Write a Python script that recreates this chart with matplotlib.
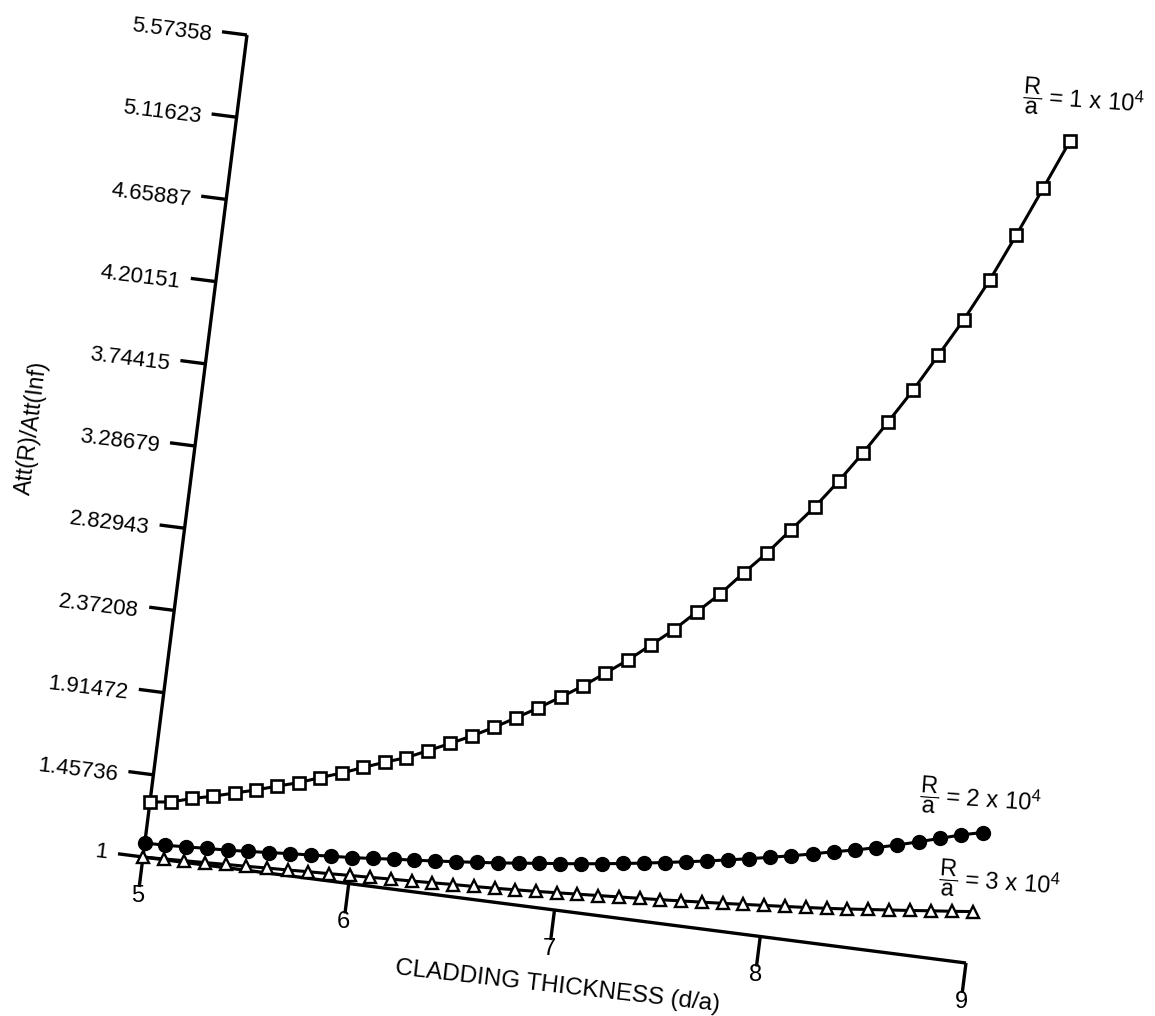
import numpy as np
import matplotlib
matplotlib.use("Agg")
import matplotlib.pyplot as plt
from matplotlib.transforms import Affine2D

plt.rcParams['font.family'] = ['Liberation Sans', 'DejaVu Sans']
plt.rcParams['mathtext.fontset'] = 'custom'
plt.rcParams['mathtext.rm'] = 'Liberation Sans'
plt.rcParams['mathtext.it'] = 'Liberation Sans:italic'

# cladding thickness d/a
thickness = np.linspace(5.0, 9.0, 41)

# Att(R)/Att(Inf) for R/a = 1e4 (open squares)
att_1e4 = [1.306, 1.321, 1.355, 1.383, 1.415, 1.447, 1.483, 1.517, 1.560, 1.600,
           1.646, 1.690, 1.730, 1.784, 1.838, 1.895, 1.957, 2.025, 2.095, 2.169,
           2.246, 2.333, 2.420, 2.518, 2.617, 2.732, 2.846, 2.978, 3.104, 3.247,
           3.389, 3.549, 3.722, 3.907, 4.098, 4.308, 4.520, 4.755, 5.020, 5.295,
           5.57358]
# R/a = 2e4 (filled circles)
att_2e4 = [1.078, 1.080, 1.086, 1.092, 1.097, 1.105, 1.113, 1.122, 1.129, 1.137,
           1.144, 1.154, 1.165, 1.174, 1.184, 1.195, 1.206, 1.218, 1.231, 1.245,
           1.258, 1.272, 1.287, 1.303, 1.320, 1.338, 1.357, 1.376, 1.397, 1.418,
           1.441, 1.464, 1.489, 1.516, 1.540, 1.568, 1.598, 1.630, 1.664, 1.698,
           1.726]
# R/a = 3e4 (open triangles)
att_3e4 = [1.000, 1.004, 1.009, 1.013, 1.018, 1.022, 1.027, 1.031, 1.036, 1.040,
           1.045, 1.049, 1.054, 1.058, 1.063, 1.068, 1.072, 1.077, 1.083, 1.089,
           1.096, 1.103, 1.110, 1.117, 1.124, 1.131, 1.139, 1.147, 1.155, 1.164,
           1.173, 1.182, 1.191, 1.201, 1.212, 1.224, 1.236, 1.248, 1.261, 1.273,
           1.286]

xticks = [5, 6, 7, 8, 9]
yticks = [1, 1.45736, 1.91472, 2.37208, 2.82943, 3.28679, 3.74415, 4.20151,
          4.65887, 5.11623, 5.57358]
ytick_labels = ["1", "1.45736", "1.91472", "2.37208", "2.82943", "3.28679",
                "3.74415", "4.20151", "4.65887", "5.11623", "5.57358"]

fig = plt.figure(figsize=(11.55, 10.16), dpi=100)
ax = fig.add_axes([143 / 1155, 159 / 1016, 823 / 1155, 822 / 1016])
ax.set_xlim(5, 9)
ax.set_ylim(1, 5.57358)
ax.axis('off')

# the scanned page is sheared: tilt the whole plot frame
x0, y0 = ax.transData.transform((5, 1))
kx = 104 / 822
ky = -106 / 823
shear = (Affine2D().translate(-x0, -y0)
         + Affine2D(np.array([[1.0, kx, 0.0], [ky, 1.0, 0.0], [0.0, 0.0, 1.0]]))
         + Affine2D().translate(x0, y0))
T = ax.transData + shear

line_kw = dict(color='black', transform=T, clip_on=False, solid_capstyle='butt')

# axis lines
ax.plot([5, 5], [1, 5.57358], lw=2.4, **line_kw)
ax.plot([5, 9], [1, 1], lw=2.4, **line_kw)

ytick_len = 25 / 823 * 4
xtick_len = 30 / 822 * 4.57358
for v, lab in zip(yticks, ytick_labels):
    ax.plot([5 - ytick_len, 5], [v, v], lw=2.4, **line_kw)
    ax.text(5 - ytick_len - 0.045, v, lab, transform=T, ha='right', va='center',
            fontsize=16, rotation=-7)
for v in xticks:
    ax.plot([v, v], [1 - xtick_len, 1], lw=2.4, **line_kw)
    ax.text(v, 1 - 0.215, str(v), transform=T, ha='center', va='center',
            fontsize=17)

ax.text(7.06, 0.585, "CLADDING THICKNESS (d/a)", transform=T, ha='center',
        va='center', fontsize=17.5, rotation=-6.5)
ax.text(4.21, 3.27, "Att(R)/Att(Inf)", transform=T, ha='center', va='center',
        fontsize=16.5, rotation=83)

# curves
ax.plot(thickness, att_1e4, lw=2.2, marker='s', ms=8.5, mfc='white', mec='black',
        mew=1.9, **line_kw)
ax.plot(thickness, att_3e4, lw=2.2, marker='^', ms=8, mfc='white', mec='black',
        mew=1.7, **line_kw)
ax.plot(thickness, att_2e4, lw=2.2, marker='o', ms=10, mfc='black', mec='black',
        **line_kw)

ax.text(9.04, 5.81, r'$\dfrac{\mathrm{R}}{\mathrm{a}}$ = 1 x 10$^4$', transform=T,
        ha='center', va='center', fontsize=17, rotation=-4)
ax.text(8.97, 1.91, r'$\dfrac{\mathrm{R}}{\mathrm{a}}$ = 2 x 10$^4$', transform=T,
        ha='center', va='center', fontsize=17, rotation=-4)
ax.text(9.11, 1.47, r'$\dfrac{\mathrm{R}}{\mathrm{a}}$ = 3 x 10$^4$', transform=T,
        ha='center', va='center', fontsize=17, rotation=-4)

fig.savefig("out.png", dpi=100)
